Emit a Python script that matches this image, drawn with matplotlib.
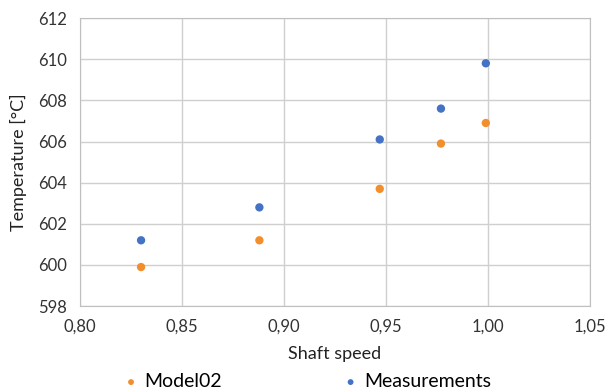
import matplotlib
matplotlib.use("Agg")
import matplotlib.pyplot as plt
from matplotlib.ticker import FuncFormatter

plt.rcParams["font.family"] = ["Lato", "DejaVu Sans"]

# données
speed = [0.830, 0.888, 0.947, 0.977, 0.999]
model02 = [599.9, 601.2, 603.7, 605.9, 606.9]
measurements = [601.2, 602.8, 606.1, 607.6, 609.8]

ORANGE = "#f28e2b"
BLUE = "#4472c4"

fig = plt.figure(figsize=(6.05, 3.92), dpi=100)
ax = fig.add_axes([0.132, 0.219, 0.843, 0.735])

ax.scatter(speed, model02, s=36, color=ORANGE, zorder=3, label="Model02", edgecolors="none")
ax.scatter(speed, measurements, s=36, color=BLUE, zorder=3, label="Measurements", edgecolors="none")

ax.set_xlim(0.80, 1.05)
ax.set_ylim(598, 612)
ax.set_xticks([0.80, 0.85, 0.90, 0.95, 1.00, 1.05])
ax.set_yticks(range(598, 613, 2))
ax.xaxis.set_major_formatter(FuncFormatter(lambda v, p: f"{v:.2f}".replace(".", ",")))
ax.grid(True, color="#cfcfcf", lw=1)
ax.set_axisbelow(True)
ax.tick_params(length=0, labelsize=12, colors="#333333", pad=9)
for s in ax.spines.values():
    s.set_color("#bfbfbf")

ax.set_xlabel("Shaft speed", fontsize=13, color="#222222", labelpad=8)
ax.set_ylabel("Temperature [°C]", fontsize=13, color="#222222", labelpad=8)

fig.legend(loc="lower left", bbox_to_anchor=(0.178, -0.04), ncol=2, frameon=False,
           fontsize=14, handlelength=0.6, handletextpad=0.4, columnspacing=6.3,
           markerscale=0.7)

fig.savefig("out.png", dpi=100)
